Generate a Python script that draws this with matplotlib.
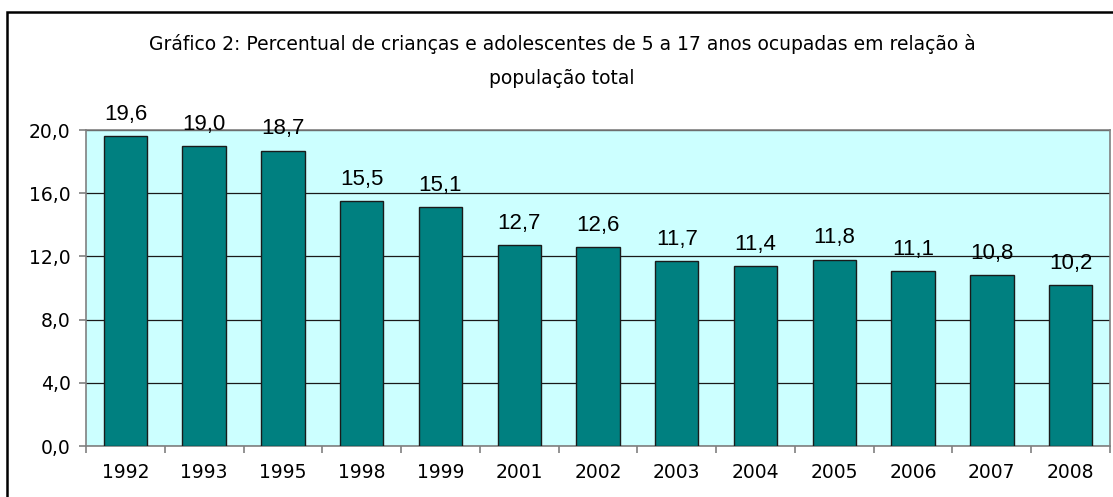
import matplotlib
matplotlib.use("Agg")
import matplotlib.pyplot as plt
from matplotlib.patches import Rectangle

years = ["1992", "1993", "1995", "1998", "1999", "2001", "2002", "2003", "2004", "2005", "2006", "2007", "2008"]
values = [19.6, 19.0, 18.7, 15.5, 15.1, 12.7, 12.6, 11.7, 11.4, 11.8, 11.1, 10.8, 10.2]
yticks = [0, 4, 8, 12, 16, 20]
title = "Gráfico 2: Percentual de crianças e adolescentes de 5 a 17 anos ocupadas em relação à\npopulação total"

W, H = 1113, 497
fig = plt.figure(figsize=(W / 100, H / 100), dpi=100)
fig.patch.set_facecolor("white")

# outer frame
fig.patches.append(Rectangle((7 / W, -0.05), 1.2, 1 - 12 / H + 0.05, transform=fig.transFigure,
                             fill=False, edgecolor="black", linewidth=1.8))

ax = fig.add_axes([86 / W, 1 - 446 / H, (1110 - 86) / W, (446 - 130) / H])
ax.set_facecolor("#CCFFFF")

x = list(range(len(years)))
ax.bar(x, values, width=0.55, color="#008080", edgecolor="#1a1a1a", linewidth=1.0, zorder=3)

ax.set_xlim(-0.5, len(years) - 0.5)
ax.set_ylim(0, 20)
ax.set_yticks(yticks)
ax.set_yticklabels([f"{v:.1f}".replace(".", ",") for v in yticks])
ax.yaxis.grid(True, color="#1a1a1a", linewidth=0.9, zorder=1)
ax.set_axisbelow(True)

ax.set_xticks(x)
ax.set_xticklabels(years)
ax.set_xticks([i - 0.5 for i in range(len(years) + 1)], minor=True)
ax.tick_params(axis="x", which="major", length=0, pad=12, labelsize=13.5)
ax.tick_params(axis="x", which="minor", length=5, color="#808080", width=1.2, direction="out")
ax.tick_params(axis="y", length=5, color="#808080", width=1.2, direction="out", labelsize=13.5, pad=6)

for s in ["left", "bottom", "top", "right"]:
    ax.spines[s].set_color("#808080")
    ax.spines[s].set_linewidth(1.2)

for xi, v in zip(x, values):
    ax.annotate(f"{v:.1f}".replace(".", ","), (xi, v), xytext=(0, 8), textcoords="offset points",
                ha="center", va="bottom", fontsize=16, family="Liberation Sans", color="black")

fig.text(562 / W, 1 - 44 / H, title.split("\n")[0], ha="center", va="center", fontsize=13.5)
fig.text(562 / W, 1 - 79 / H, title.split("\n")[1], ha="center", va="center", fontsize=13.5)

fig.savefig("out.png", dpi=100)
